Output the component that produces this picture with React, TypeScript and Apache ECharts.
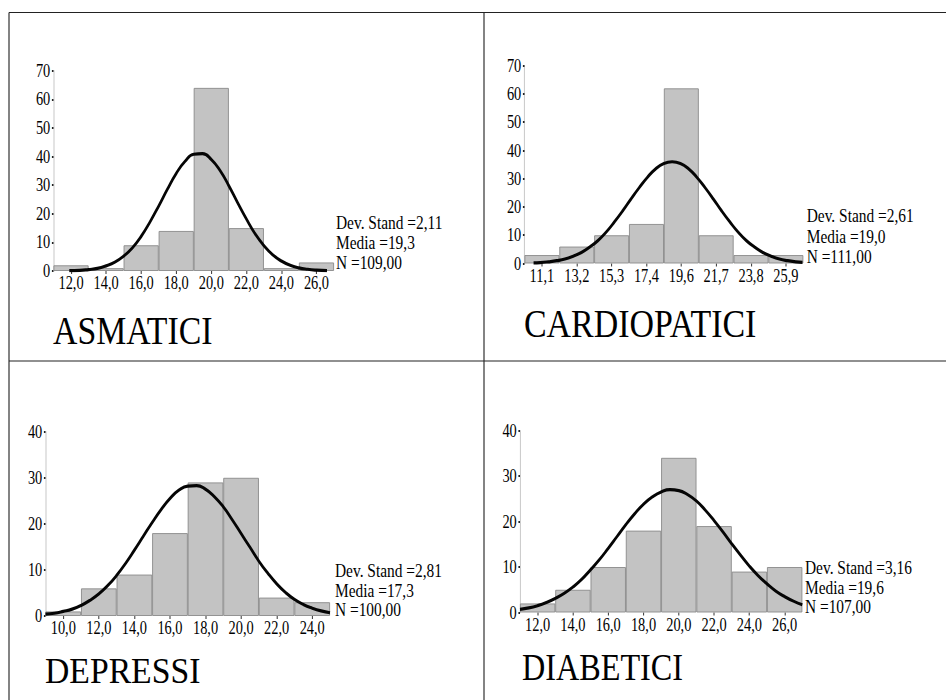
import React, { useEffect, useRef } from "react";
import * as echarts from "echarts";

// ---------- data ----------
const asmLabels = ["12,0", "14,0", "16,0", "18,0", "20,0", "22,0", "24,0", "26,0"];
const asmCounts = [2, 1, 9, 14, 64, 15, 1, 3];
const asmCurve = [
  [11.9, 0.1], [12.5, 0.2], [13, 0.5], [13.5, 0.9], [14, 1.8], [14.5, 3.1], [15, 5.2], [15.5, 8.1],
  [16, 12.1], [16.5, 17.1], [17, 22.7], [17.5, 28.6], [18, 34.1], [18.5, 38.3], [19, 40.8], [19.5, 41.0],
  [20, 39.0], [20.5, 35.1], [21, 29.8], [21.5, 23.9], [22, 18.2], [22.5, 13.0], [23, 8.9], [23.5, 5.7],
  [24, 3.5], [24.5, 2.0], [25, 1.1], [25.5, 0.6], [26, 0.3], [26.6, 0.1],
];
const asmStats = ["Dev. Stand =2,11", "Media =19,3", "N =109,00"];

const cardLabels = ["11,1", "13,2", "15,3", "17,4", "19,6", "21,7", "23,8", "25,9"];
const cardCounts = [3, 6, 10, 14, 62, 10, 3, 3];
const cardCurve = [
  [10.6, 0.2], [11, 0.3], [11.5, 0.6], [12, 1.0], [12.5, 1.6], [13, 2.6], [13.5, 3.9], [14, 5.8],
  [14.5, 8.1], [15, 11.1], [15.5, 14.7], [16, 18.6], [16.5, 22.8], [17, 26.8], [17.5, 30.5], [18, 33.5],
  [18.5, 35.4], [19, 36.0], [19.5, 35.4], [20, 33.5], [20.5, 30.5], [21, 26.8], [21.5, 22.8], [22, 18.6],
  [22.5, 14.7], [23, 11.1], [23.5, 8.1], [24, 5.8], [24.5, 3.9], [25, 2.6], [25.5, 1.6], [26, 1.0],
  [26.5, 0.6], [26.9, 0.4],
];
const cardStats = ["Dev. Stand =2,61", "Media =19,0", "N =111,00"];

const depLabels = ["10,0", "12,0", "14,0", "16,0", "18,0", "20,0", "22,0", "24,0"];
const depCounts = [1, 6, 9, 18, 29, 30, 4, 3];
const depCurve = [
  [9, 0.4], [9.5, 0.6], [10, 1.0], [10.5, 1.5], [11, 2.3], [11.5, 3.4], [12, 4.8], [12.5, 6.6],
  [13, 8.8], [13.5, 11.4], [14, 14.3], [14.5, 17.3], [15, 20.3], [15.5, 23.1], [16, 25.5], [16.5, 27.3],
  [17, 28.2], [17.5, 28.3], [18, 27.5], [18.5, 25.9], [19, 23.7], [19.5, 20.9], [20, 17.9], [20.5, 14.9],
  [21, 11.9], [21.5, 9.3], [22, 7.0], [22.5, 5.1], [23, 3.6], [23.5, 2.5], [24, 1.7], [24.5, 1.1], [25, 0.7],
];
const depStats = ["Dev. Stand =2,81", "Media =17,3", "N =100,00"];

const diaLabels = ["12,0", "14,0", "16,0", "18,0", "20,0", "22,0", "24,0", "26,0"];
const diaCounts = [2, 5, 10, 18, 34, 19, 9, 10];
const diaCurve = [
  [11, 0.7], [11.5, 1.0], [12, 1.5], [12.5, 2.2], [13, 3.1], [13.5, 4.2], [14, 5.6], [14.5, 7.3],
  [15, 9.4], [15.5, 11.6], [16, 14.1], [16.5, 16.7], [17, 19.3], [17.5, 21.7], [18, 23.8], [18.5, 25.4],
  [19, 26.5], [19.5, 27.0], [20, 26.8], [20.5, 25.9], [21, 24.5], [21.5, 22.5], [22, 20.2], [22.5, 17.7],
  [23, 15.1], [23.5, 12.6], [24, 10.2], [24.5, 8.1], [25, 6.3], [25.5, 4.7], [26, 3.5], [26.5, 2.5], [27, 1.7],
];
const diaStats = ["Dev. Stand =3,16", "Media =19,6", "N =107,00"];

const titles = ["ASMATICI", "CARDIOPATICI", "DEPRESSI", "DIABETICI"];
const yMax = [70, 70, 40, 40];
const xRanges = [
  [11, 27],
  [10.05, 26.95],
  [9, 25],
  [11, 27],
];

// ---------- layout (screen pixels) ----------
const S = 0.8; // horizontal compression of the whole picture
const sx = (v: number) => v / S;
const FONT = "Liberation Serif";

const panels = [
  { labels: asmLabels, counts: asmCounts, curve: asmCurve, stats: asmStats,
    grid: { l: 53.5, r: 334, t: 70.7, b: 271 },
    statX: 336, statY: [223, 243, 263],
    title: { x: 53, y: 330.5, size: 41, sc: 1.03 } },
  { labels: cardLabels, counts: cardCounts, curve: cardCurve, stats: cardStats,
    grid: { l: 524.5, r: 803.3, t: 65.7, b: 263.5 },
    statX: 806.7, statY: [215.7, 236.7, 256.7],
    title: { x: 524, y: 323.3, size: 40, sc: 1.06 } },
  { labels: depLabels, counts: depCounts, curve: depCurve, stats: depStats,
    grid: { l: 45.5, r: 330, t: 431.7, b: 616 },
    statX: 335, statY: [570.7, 590.7, 610],
    title: { x: 45, y: 671, size: 36, sc: 1.17 } },
  { labels: diaLabels, counts: diaCounts, curve: diaCurve, stats: diaStats,
    grid: { l: 520, r: 802.3, t: 430.5, b: 612.5 },
    statX: 805, statY: [568, 588, 607],
    title: { x: 522, y: 667.5, size: 38, sc: 1.06 } },
];

export default function App() {
  const ref = useRef<HTMLDivElement>(null);
  useEffect(() => {
    if (!ref.current) return;
    const chart = echarts.init(ref.current, undefined, { renderer: "svg" });
    const W = sx(946);

    const grid = panels.map((p) => ({
      left: sx(p.grid.l),
      top: p.grid.t,
      width: sx(p.grid.r - p.grid.l),
      height: p.grid.b - p.grid.t,
      containLabel: false,
    }));

    const catAxes = panels.map((p, i) => ({
      type: "category",
      gridIndex: i,
      data: p.labels,
      axisLine: { show: false },
      axisTick: { show: true, alignWithLabel: true, length: 3, lineStyle: { color: "#333", width: 1.25 } },
      axisLabel: { interval: 0, margin: 3, fontFamily: FONT, fontSize: 18, color: "#000" },
      splitLine: { show: false },
    }));
    const valAxes = panels.map((p, i) => ({
      type: "value",
      gridIndex: i,
      min: xRanges[i][0],
      max: xRanges[i][1],
      show: false,
    }));
    const yAxes = panels.map((p, i) => ({
      type: "value",
      gridIndex: i,
      min: 0,
      max: yMax[i],
      interval: 10,
      axisLine: { show: true, lineStyle: { color: "#c8c8c8", width: 1.25 } },
      axisTick: { show: true, length: 2, lineStyle: { color: "#222", width: 2 } },
      axisLabel: { margin: 4, fontFamily: FONT, fontSize: 18, color: "#000" },
      splitLine: { show: false },
    }));

    const bars = panels.map((p, i) => ({
      type: "bar",
      xAxisIndex: i,
      yAxisIndex: i,
      data: p.counts,
      barCategoryGap: "0%",
      itemStyle: { color: "#c3c3c3", borderColor: "#8a8a8a", borderWidth: 1 },
      z: 2,
      silent: true,
    }));
    const lines = panels.map((p, i) => ({
      type: "line",
      xAxisIndex: 4 + i,
      yAxisIndex: i,
      data: p.curve,
      smooth: 0.5,
      symbol: "none",
      lineStyle: { color: "#050505", width: 3.2 },
      z: 3,
      silent: true,
    }));

    const graphic: any[] = [];
    const ln = (x1: number, y1: number, x2: number, y2: number, w: number) => ({
      type: "line",
      shape: { x1, y1, x2, y2 },
      style: { stroke: "#222", lineWidth: w },
      silent: true,
    });
    graphic.push(ln(sx(9), 12.5, W + 5, 12.5, 1.2));
    graphic.push(ln(sx(9), 12.5, sx(9), 705, 1.4));
    graphic.push(ln(sx(484), 12.5, sx(484), 705, 1.4));
    graphic.push(ln(sx(9), 361, W + 5, 361, 1.2));

    panels.forEach((p, i) => {
      graphic.push({
        type: "text",
        x: sx(p.title.x),
        y: p.title.y,
        scaleX: p.title.sc,
        silent: true,
        style: {
          text: titles[i],
          fontFamily: FONT,
          fontSize: p.title.size,
          fill: "#000",
          verticalAlign: "middle",
          align: "left",
        },
      });
      p.stats.forEach((s, k) => {
        graphic.push({
          type: "text",
          x: sx(p.statX),
          y: p.statY[k],
          scaleX: 1.07,
          silent: true,
          style: {
            text: s,
            fontFamily: FONT,
            fontSize: 18,
            fill: "#000",
            verticalAlign: "middle",
            align: "left",
          },
        });
      });
    });

    chart.setOption({
      animation: false,
      backgroundColor: "#ffffff",
      grid,
      xAxis: [...catAxes, ...valAxes],
      yAxis: yAxes,
      series: [...bars, ...lines],
      graphic,
    });
    return () => chart.dispose();
  }, []);

  return (
    <div style={{ position: "fixed", left: 0, top: 0, width: 946, height: 700, overflow: "hidden", background: "#fff" }}>
      <div
        ref={ref}
        style={{ width: sx(946), height: 700, transform: `scaleX(${S})`, transformOrigin: "0 0" }}
      />
    </div>
  );
}
